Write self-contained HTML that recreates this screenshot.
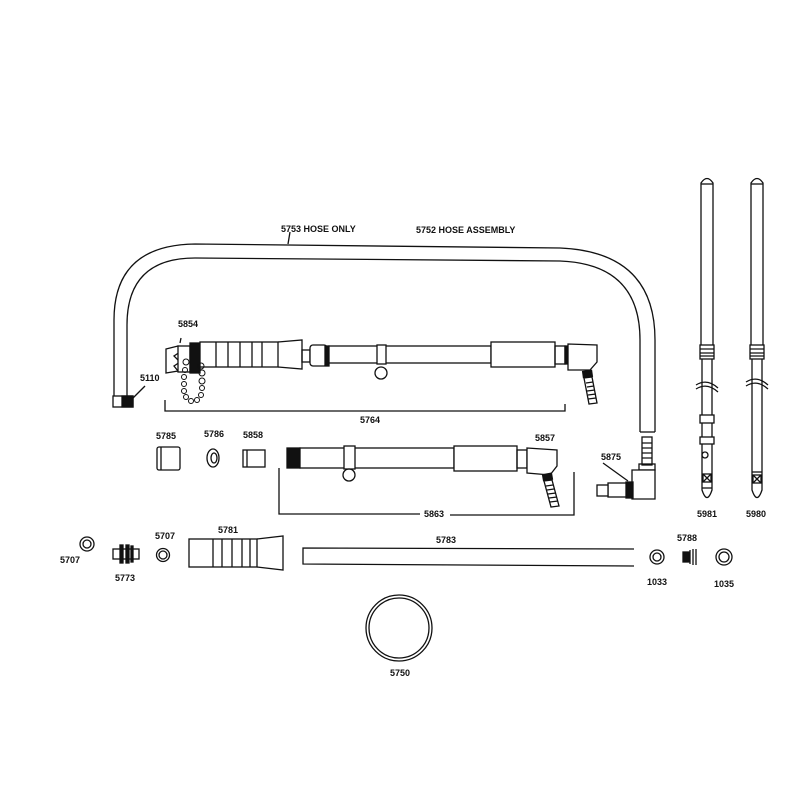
<!DOCTYPE html>
<html><head><meta charset="utf-8"><style>
html,body{margin:0;padding:0;background:#fff;}
svg{display:block}
text{font-family:"Liberation Sans",sans-serif;font-weight:bold;font-size:9px;fill:#111;}
</style></head><body>
<svg width="800" height="800" viewBox="0 0 800 800" xmlns="http://www.w3.org/2000/svg">
<g fill="none" stroke="#111" stroke-width="1.3">
<!-- hose -->
<path d="M114 396 L114 320 Q114 245 195 244 L560 248 Q655 252 655 340 L655 432"/>
<path d="M127 396 L127 325 Q127 258 195 258 L560 261 Q640 264 640 340 L640 432"/>
<line x1="640" y1="432" x2="655" y2="432"/>
<line x1="290" y1="232" x2="288" y2="244"/>
<!-- 5110 fitting -->
<rect x="113" y="396" width="20" height="11" fill="#fff"/>
<rect x="122" y="396" width="11" height="11" fill="#111"/>
<line x1="133" y1="398" x2="145" y2="386"/>
<!-- 5764 wand -->
<path d="M166 349 L178 346 L180 352 L174 356 L180 362 L174 366 L178 371 L166 373 Z" fill="#fff"/>
<rect x="178" y="346" width="12" height="26" fill="#fff"/>
<rect x="190" y="343" width="10" height="30" fill="#111"/>
<rect x="200" y="342" width="78" height="25" fill="#fff"/>
<line x1="216" y1="342" x2="216" y2="367"/><line x1="228" y1="342" x2="228" y2="367"/>
<line x1="240" y1="342" x2="240" y2="367"/><line x1="252" y1="342" x2="252" y2="367"/>
<line x1="262" y1="342" x2="262" y2="367"/>
<path d="M278 342 L302 340 L302 369 L278 367"/>
<rect x="302" y="350" width="8" height="12"/>
<rect x="310" y="345" width="17" height="21" rx="3" fill="#fff"/>
<rect x="325" y="346" width="4" height="20" fill="#111"/>
<rect x="329" y="346" width="162" height="17" fill="#fff"/>
<rect x="377" y="345" width="9" height="19" fill="#fff"/>
<circle cx="381" cy="373" r="6"/>
<rect x="491" y="342" width="64" height="25" fill="#fff"/>
<rect x="555" y="346" width="10" height="18"/>
<rect x="565" y="346" width="3" height="18" fill="#111"/>
<path d="M568 344 L597 345 L597 362 L590 370 L568 370 Z" fill="#fff"/>
<rect x="583" y="371" width="9" height="6" fill="#111" transform="rotate(-8 587 374)"/>
<path d="M584 378 L592 377 L597 403 L589 404 Z" fill="#fff"/>
<path d="M586 383 L593 382 M587 387 L594 386 M587 391 L595 390 M588 395 L596 394 M588 399 L596 398"/>
<!-- chain -->
<g stroke-width="1">
<circle cx="186" cy="362" r="3"/><circle cx="185" cy="370" r="2.5"/><circle cx="184" cy="377" r="2.5"/><circle cx="184" cy="384" r="2.5"/><circle cx="184" cy="391" r="2.5"/><circle cx="186" cy="397" r="2.5"/><circle cx="191" cy="401" r="2.5"/><circle cx="197" cy="400" r="2.5"/><circle cx="201" cy="395" r="2.5"/><circle cx="202" cy="388" r="2.5"/><circle cx="202" cy="381" r="3"/><circle cx="202" cy="373" r="3"/><circle cx="201" cy="366" r="3"/>
</g>
<line x1="180" y1="343" x2="181" y2="338"/>
<!-- bracket 5764 -->
<path d="M165 400 L165 411 L565 411 L565 404"/>
<!-- parts row 2 -->
<rect x="157" y="447" width="23" height="23" rx="2" fill="#fff"/>
<line x1="161" y1="447" x2="161" y2="470"/>
<ellipse cx="213" cy="458" rx="6" ry="9"/><ellipse cx="214" cy="458" rx="3" ry="5"/>
<rect x="243" y="450" width="22" height="17"/><line x1="247" y1="450" x2="247" y2="467"/>
<!-- 5863 wand -->
<rect x="287" y="448" width="13" height="20" fill="#111"/>
<rect x="300" y="448" width="154" height="20" fill="#fff"/>
<rect x="344" y="446" width="11" height="23" fill="#fff"/>
<circle cx="349" cy="475" r="6"/>
<rect x="454" y="446" width="63" height="25" fill="#fff"/>
<rect x="517" y="450" width="10" height="18"/>
<path d="M527 448 L557 450 L557 466 L550 475 L527 473 Z" fill="#fff"/>
<rect x="543" y="474" width="9" height="6" fill="#111" transform="rotate(-10 547 477)"/>
<path d="M544 481 L552 480 L559 506 L551 507 Z" fill="#fff"/>
<path d="M546 486 L553 485 M547 490 L554 489 M548 494 L556 493 M549 498 L557 497 M550 502 L558 501"/>
<path d="M279 468 L279 514 L420 514 M450 515 L574 515 L574 472"/>
<!-- 5875 -->
<rect x="642" y="437" width="10" height="28"/>
<path d="M642 443 H652 M642 448 H652 M642 453 H652 M642 458 H652"/>
<rect x="639" y="464" width="16" height="6"/>
<path d="M632 470 L655 470 L655 499 L632 499 Z" fill="#fff"/>
<rect x="626" y="482" width="7" height="16" fill="#111"/>
<rect x="608" y="483" width="18" height="14" fill="#fff"/>
<rect x="597" y="485" width="11" height="11" fill="#fff"/>
<line x1="603" y1="463" x2="628" y2="481"/>
<!-- row 3 -->
<circle cx="87" cy="544" r="7"/><circle cx="87" cy="544" r="4"/>
<rect x="113" y="549" width="26" height="10"/>
<rect x="120" y="545" width="3" height="18" fill="#111"/><rect x="126" y="545" width="3" height="18" fill="#111"/><rect x="131" y="546" width="2" height="16" fill="#111"/>
<circle cx="163" cy="555" r="6.5"/><circle cx="163" cy="555" r="4"/>
<rect x="189" y="539" width="68" height="28" fill="#fff"/>
<line x1="213" y1="539" x2="213" y2="567"/><line x1="222" y1="539" x2="222" y2="567"/>
<line x1="232" y1="539" x2="232" y2="567"/><line x1="242" y1="539" x2="242" y2="567"/>
<line x1="250" y1="539" x2="250" y2="567"/>
<path d="M257 539 L283 536 L283 570 L257 567"/>
<path d="M634 549 L303 548 L303 564 L634 566"/>
<circle cx="657" cy="557" r="7"/><circle cx="657" cy="557" r="4"/>
<rect x="683" y="552" width="6" height="10" fill="#111"/>
<path d="M690 550 V564 M693 549 V565 M696 549 V565"/>
<circle cx="724" cy="557" r="8"/><circle cx="724" cy="557" r="5"/>
<circle cx="399" cy="628" r="33"/><circle cx="399" cy="628" r="30"/>
<!-- poles -->
<path d="M701 345 L701 183 Q707 174 713 183 L713 345"/>
<line x1="701" y1="184" x2="713" y2="184"/>
<rect x="700" y="345" width="14" height="14" fill="#fff"/>
<path d="M700 349 H714 M700 353 H714 M700 356 H714"/>
<path d="M702 359 L702 490 Q707 505 712 490 L712 359"/>
<path d="M696 385 Q707 378 718 388 M696 389 Q707 382 718 392"/>
<rect x="700" y="415" width="14" height="8" fill="#fff"/>
<rect x="700" y="437" width="14" height="7" fill="#fff"/>
<circle cx="705" cy="455" r="3"/>
<rect x="703" y="474" width="8" height="8"/><path d="M703 474 L711 482 M711 474 L703 482"/>
<line x1="702" y1="488" x2="712" y2="488"/>
<path d="M751 345 L751 183 Q757 174 763 183 L763 345"/>
<line x1="751" y1="184" x2="763" y2="184"/>
<rect x="750" y="345" width="14" height="14" fill="#fff"/>
<path d="M750 349 H764 M750 353 H764 M750 356 H764"/>
<path d="M752 359 L752 490 Q757 505 762 490 L762 359"/>
<path d="M746 382 Q757 375 768 385 M746 386 Q757 379 768 389"/>
<rect x="753" y="475" width="8" height="8"/><path d="M753 475 L761 483 M761 475 L753 483"/>
<line x1="752" y1="472" x2="762" y2="472"/>
</g>
<text x="281" y="232">5753 HOSE ONLY</text>
<text x="416" y="233">5752 HOSE ASSEMBLY</text>
<text x="178" y="327">5854</text>
<text x="140" y="381">5110</text>
<text x="360" y="423">5764</text>
<text x="156" y="439">5785</text>
<text x="204" y="437">5786</text>
<text x="243" y="438">5858</text>
<text x="535" y="441">5857</text>
<text x="601" y="460">5875</text>
<text x="424" y="517">5863</text>
<text x="697" y="517">5981</text>
<text x="746" y="517">5980</text>
<text x="60" y="563">5707</text>
<text x="155" y="539">5707</text>
<text x="218" y="533">5781</text>
<text x="115" y="581">5773</text>
<text x="436" y="543">5783</text>
<text x="677" y="541">5788</text>
<text x="647" y="585">1033</text>
<text x="714" y="587">1035</text>
<text x="390" y="676">5750</text>
</svg>
</body></html>
